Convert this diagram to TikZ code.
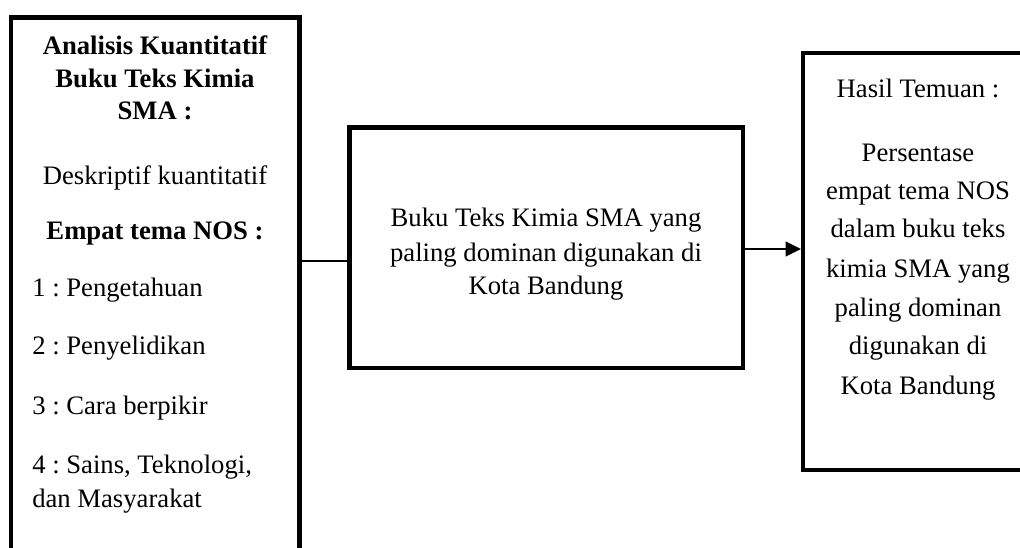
\documentclass[tikz,border=0pt]{standalone}
\usepackage{fontspec}
\setmainfont{Liberation Serif}
\usetikzlibrary{arrows.meta}
\frenchspacing
\begin{document}
\begin{tikzpicture}[x=0.75pt,y=-0.75pt,
  box/.style={draw, line width=3.2pt, inner sep=0pt, fill=none},
  txt/.style={font=\fontsize{20}{27}\selectfont, inner sep=0pt, anchor=base},
  txtl/.style={txt, anchor=base west},
  txtb/.style={txt, font=\fontsize{20}{27}\selectfont\bfseries},
  link/.style={draw, line width=1.1pt},
  arrowlink/.style={draw, line width=1.5pt, -{Triangle[length=11.5pt,width=11pt]}}]
\useasboundingbox (0,0) rectangle (1020,548);
\clip (0,0) rectangle (1020,548);
% boxes
\node[box, minimum width=288.5*0.75pt, minimum height=552.5*0.75pt] (lbox) at (155.25,293.75) {};
\node[box, minimum width=393.5*0.75pt, minimum height=240.5*0.75pt] (mbox) at (546.25,247.75) {};
\node[box, minimum width=237*0.75pt, minimum height=417*0.75pt] (rbox) at (921.5,261.5) {};
% left text
\node[txtb] (l1) at (155,55) {Analisis Kuantitatif};
\node[txtb] (l2) at (155,88) {Buku Teks Kimia};
\node[txtb] (l3) at (155,120) {SMA :};
\node[txt] (l4) at (155,185) {Deskriptif kuantitatif};
\node[txtb] (l5) at (155,240) {Empat tema NOS :};
\node[txtl] (l6) at (32,297) {1 : Pengetahuan};
\node[txtl] (l7) at (32,355) {2 : Penyelidikan};
\node[txtl] (l8) at (32,415) {3 : Cara berpikir};
\node[txtl] (l9) at (32,473) {4 : Sains, Teknologi,};
\node[txtl] (l10) at (32,507) {dan Masyarakat};
% middle text
\node[txt] (m1) at (546,227) {Buku Teks Kimia SMA yang};
\node[txt] (m2) at (546,262) {paling dominan digunakan di};
\node[txt] (m3) at (546,295) {Kota Bandung};
% right text
\node[txt] (r1) at (918,98) {Hasil Temuan :};
\node[txt] (r2) at (918,162) {Persentase};
\node[txt] (r3) at (918,200) {empat tema NOS};
\node[txt] (r4) at (918,238) {dalam buku teks};
\node[txt] (r5) at (918,278) {kimia SMA yang};
\node[txt] (r6) at (918,317) {paling dominan};
\node[txt] (r7) at (918,355) {digunakan di};
\node[txt] (r8) at (918,395) {Kota Bandung};
% connectors
\coordinate (ya) at (0,261);
\coordinate (yb) at (0,249);
\path[link] (lbox.east |- ya) -- (mbox.west |- ya);
\path[arrowlink] (mbox.east |- yb) -- (rbox.west |- yb);
\end{tikzpicture}
\end{document}
